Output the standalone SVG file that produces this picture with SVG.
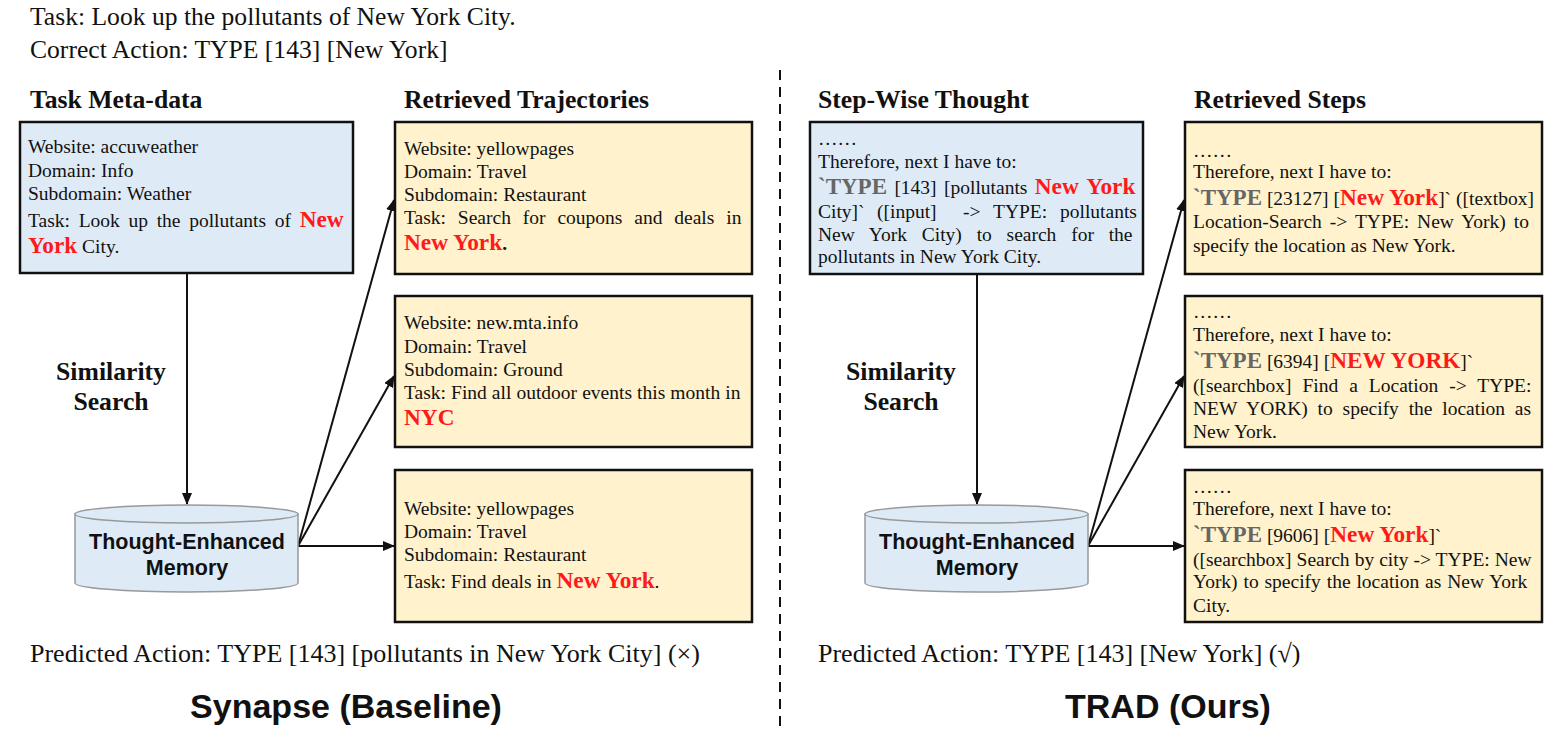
<svg xmlns="http://www.w3.org/2000/svg" width="1561" height="731" viewBox="0 0 1561 731">
<style>
text{font-family:"Liberation Serif","Times New Roman",serif;fill:#111}
.big{font-size:26px}
.top{font-size:25.6px}
.hd{font-size:25.7px;font-weight:bold}
.t{font-size:19.5px}
.r{font-weight:bold;fill:#ff1a1a;font-size:23.3px}
.g{font-weight:bold;fill:#666;font-size:23px}
.b{font-weight:bold}
.blue{fill:#deebf7;stroke:#111;stroke-width:2.5}
.yel{fill:#fff2cc;stroke:#111;stroke-width:2.5}
.cyl{fill:#deebf7;stroke:#999;stroke-width:1.5}
.ct{font-family:"Liberation Sans",Arial,sans-serif;font-weight:bold;font-size:21.5px;fill:#111}
.ttl{font-family:"Liberation Sans",Arial,sans-serif;font-weight:bold;font-size:34px;fill:#111}
.arr{stroke:#111;stroke-width:2;fill:none;marker-end:url(#ah)}
</style>
<defs>
<marker id="ah" markerUnits="userSpaceOnUse" markerWidth="12" markerHeight="10" refX="11" refY="5" orient="auto">
<path d="M0,0 L12,5 L0,10 Z" fill="#111"/>
</marker>
</defs>

<g id="header">
<text class="top" x="30" y="25">Task: Look up the pollutants of New York City.</text>
<text class="top" x="30" y="58">Correct Action: TYPE [143] [New York]</text>
<text class="hd" x="30" y="108">Task Meta-data</text>
<text class="hd" x="404" y="108">Retrieved Trajectories</text>
<text class="hd" x="818" y="108">Step-Wise Thought</text>
<text class="hd" x="1194" y="108">Retrieved Steps</text>
</g>

<g id="divider">
<line x1="780" y1="70" x2="780" y2="731" stroke="#111" stroke-width="2" stroke-dasharray="10 7"/>
</g>

<g id="connectors">
<line class="arr" x1="187" y1="274" x2="187" y2="504"/>
<line class="arr" x1="298" y1="546" x2="394" y2="200"/>
<line class="arr" x1="298" y1="546" x2="394" y2="376"/>
<line class="arr" x1="298" y1="546" x2="394" y2="546"/>
<line class="arr" x1="977" y1="274" x2="977" y2="504"/>
<line class="arr" x1="1088" y1="546" x2="1184" y2="200"/>
<line class="arr" x1="1088" y1="546" x2="1184" y2="376"/>
<line class="arr" x1="1088" y1="546" x2="1184" y2="546"/>
</g>

<g id="meta">
<rect class="blue" x="20" y="122" width="333" height="151"/>
<text class="t" x="28" y="153">Website: accuweather</text>
<text class="t" x="28" y="177">Domain: Info</text>
<text class="t" x="28" y="200">Subdomain: Weather</text>
<text class="t" x="28" y="227" word-spacing="3.8">Task: Look up the pollutants of <tspan class="r">New</tspan></text>
<text class="t" x="28" y="253"><tspan class="r">York</tspan> City.</text>
</g>

<g id="traj1">
<rect class="yel" x="395" y="122" width="357" height="152"/>
<text class="t" x="404" y="155">Website: yellowpages</text>
<text class="t" x="404" y="178">Domain: Travel</text>
<text class="t" x="404" y="201">Subdomain: Restaurant</text>
<text class="t" x="404" y="224" word-spacing="7">Task: Search for coupons and deals in</text>
<text class="t" x="404" y="250"><tspan class="r">New York</tspan><tspan class="b">.</tspan></text>
</g>

<g id="traj2">
<rect class="yel" x="395" y="296" width="357" height="151"/>
<text class="t" x="404" y="329">Website: new.mta.info</text>
<text class="t" x="404" y="353">Domain: Travel</text>
<text class="t" x="404" y="376">Subdomain: Ground</text>
<text class="t" x="404" y="399" word-spacing="0.2">Task: Find all outdoor events this month in</text>
<text class="t" x="404" y="425"><tspan class="r">NYC</tspan></text>
</g>

<g id="traj3">
<rect class="yel" x="395" y="470" width="357" height="152"/>
<text class="t" x="404" y="515">Website: yellowpages</text>
<text class="t" x="404" y="538">Domain: Travel</text>
<text class="t" x="404" y="561">Subdomain: Restaurant</text>
<text class="t" x="404" y="588">Task: Find deals in <tspan class="r">New York</tspan>.</text>
</g>

<g id="thought">
<rect class="blue" x="810" y="122" width="333" height="152"/>
<text class="t" x="818" y="145">……</text>
<text class="t" x="818" y="168">Therefore, next I have to:</text>
<text class="t" x="818" y="194" word-spacing="2.5"><tspan class="g">`TYPE</tspan> [143] [pollutants <tspan class="r">New York</tspan></text>
<text class="t" y="218"><tspan x="818">City]`</tspan><tspan x="877">([input]</tspan><tspan x="963">-&gt;</tspan><tspan x="993">TYPE:</tspan><tspan x="1060">pollutants</tspan></text>
<text class="t" x="818" y="241" word-spacing="9.9">New York City) to search for the</text>
<text class="t" x="818" y="263">pollutants in New York City.</text>
</g>

<g id="step1">
<rect class="yel" x="1185" y="122" width="357" height="152"/>
<text class="t" x="1193" y="157">……</text>
<text class="t" x="1193" y="178">Therefore, next I have to:</text>
<text class="t" x="1193" y="205"><tspan class="g">`TYPE</tspan> [23127] [<tspan class="r">New York</tspan>]` ([textbox]</text>
<text class="t" x="1193" y="228" word-spacing="3.1">Location-Search -&gt; TYPE: New York) to</text>
<text class="t" x="1193" y="252">specify the location as New York.</text>
</g>

<g id="step2">
<rect class="yel" x="1185" y="296" width="357" height="151"/>
<text class="t" x="1193" y="318">……</text>
<text class="t" x="1193" y="341">Therefore, next I have to:</text>
<text class="t" x="1193" y="368"><tspan class="g">`TYPE</tspan> [6394] [<tspan class="r">NEW YORK</tspan>]`</text>
<text class="t" x="1193" y="392" word-spacing="6.1">([searchbox] Find a Location -&gt; TYPE:</text>
<text class="t" x="1193" y="415" word-spacing="4.9">NEW YORK) to specify the location as</text>
<text class="t" x="1193" y="438">New York.</text>
</g>

<g id="step3">
<rect class="yel" x="1185" y="470" width="357" height="152"/>
<text class="t" x="1193" y="493">……</text>
<text class="t" x="1193" y="515">Therefore, next I have to:</text>
<text class="t" x="1193" y="542"><tspan class="g">`TYPE</tspan> [9606] [<tspan class="r">New York</tspan>]`</text>
<text class="t" x="1193" y="566" word-spacing="0.15">([searchbox] Search by city -&gt; TYPE: New</text>
<text class="t" x="1193" y="588" word-spacing="1">York) to specify the location as New York</text>
<text class="t" x="1193" y="612">City.</text>
</g>

<g id="sim-left">
<text class="hd" x="111" y="380" text-anchor="middle">Similarity</text>
<text class="hd" x="111" y="410" text-anchor="middle">Search</text>
</g>
<g id="sim-right">
<text class="hd" x="901" y="380" text-anchor="middle">Similarity</text>
<text class="hd" x="901" y="410" text-anchor="middle">Search</text>
</g>

<g id="memory-left">
<path class="cyl" d="M75,514 L75,583 A111.5,9 0 0 0 298,583 L298,514 Z"/>
<ellipse class="cyl" cx="186.5" cy="514" rx="111.5" ry="9"/>
<text class="ct" x="187" y="549" text-anchor="middle">Thought-Enhanced</text>
<text class="ct" x="187" y="575" text-anchor="middle">Memory</text>
</g>

<g id="memory-right">
<path class="cyl" d="M865,514 L865,583 A111.5,9 0 0 0 1088,583 L1088,514 Z"/>
<ellipse class="cyl" cx="976.5" cy="514" rx="111.5" ry="9"/>
<text class="ct" x="977" y="549" text-anchor="middle">Thought-Enhanced</text>
<text class="ct" x="977" y="575" text-anchor="middle">Memory</text>
</g>

<g id="footer">
<text class="big" x="30" y="662">Predicted Action: TYPE [143] [pollutants in New York City] (×)</text>
<text class="big" x="818" y="662">Predicted Action: TYPE [143] [New York] (√)</text>
<text class="ttl" x="346" y="718" text-anchor="middle">Synapse (Baseline)</text>
<text class="ttl" x="1168" y="718" text-anchor="middle">TRAD (Ours)</text>
</g>
</svg>
